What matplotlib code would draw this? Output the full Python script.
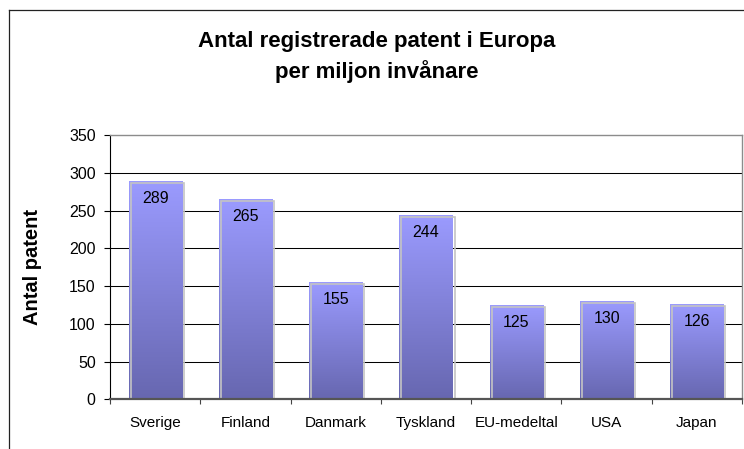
import numpy as np
import matplotlib
matplotlib.use("Agg")
import matplotlib.pyplot as plt
from matplotlib.lines import Line2D
from matplotlib.patches import Rectangle
from matplotlib.transforms import offset_copy
from matplotlib.colors import LinearSegmentedColormap

plt.rcParams['font.family'] = ['Liberation Sans', 'DejaVu Sans']

# === Data ===
countries = ["Sverige", "Finland", "Danmark", "Tyskland", "EU-medeltal", "USA", "Japan"]
patents   = [289, 265, 155, 244, 125, 130, 126]
y_ticks   = [0, 50, 100, 150, 200, 250, 300, 350]

W, H, DPI = 744, 449, 100
fig = plt.figure(figsize=(W / DPI, H / DPI), dpi=DPI)

# plot area in pixels: left 110, right 742, top 135, bottom 399
ax = fig.add_axes([110 / W, (H - 399.3) / H, 632 / W, (399.3 - 135) / H])

grad = LinearSegmentedColormap.from_list("bar", ["#6767b0", "#9b9bff"])
bar_w = 0.59
x = np.arange(len(countries))

bars = ax.bar(x, patents, width=bar_w, color="none", edgecolor="none", zorder=3)
shadow_tr = offset_copy(ax.transData, fig=fig, x=2, y=-2, units="dots")
for b, v in zip(bars, patents):
    x0 = b.get_x()
    im = ax.imshow(np.linspace(0, 1, 256).reshape(-1, 1), cmap=grad, origin="lower",
                   extent=(x0, x0 + bar_w, 0, v), aspect="auto", zorder=3)
    im.set_clip_path(b)
    ax.add_patch(Rectangle((x0, 0), bar_w, v, fill=False, edgecolor="#c4c4c4",
                           linewidth=1.2, transform=shadow_tr, zorder=4))
    ax.annotate(str(v), (b.get_x() + bar_w / 2, v), xytext=(0, -12.5),
                textcoords="offset points", ha="center", va="center",
                fontsize=11.5, color="black", zorder=5)

# === Axes ===
ax.set_xlim(-0.5, len(countries) - 0.5)
ax.set_ylim(0, 350)
ax.set_yticks(y_ticks)
ax.tick_params(axis="y", direction="out", length=4.3, width=0.8, pad=6, labelsize=11.5)
ax.set_xticks(x)
ax.set_xticklabels(countries)
ax.tick_params(axis="x", which="major", length=0, pad=12, labelsize=11)
ax.set_xticks(np.arange(len(countries) + 1) - 0.5, minor=True)
ax.tick_params(axis="x", which="minor", direction="out", length=3.6, width=0.8, color="#444444")

for yv in y_ticks[1:-1]:
    ax.axhline(yv, color="black", linewidth=0.75, zorder=1)

ax.spines["left"].set_color("black")
ax.spines["left"].set_linewidth(0.8)
ax.spines["bottom"].set_color("#555555")
ax.spines["bottom"].set_linewidth(1.6)
ax.spines["bottom"].set_zorder(6)
ax.spines["top"].set_color("#8c8c8c")
ax.spines["top"].set_linewidth(1.0)
ax.spines["right"].set_color("#8c8c8c")
ax.spines["right"].set_linewidth(1.0)

ax.set_ylabel("Antal patent", fontsize=14.5, fontweight="bold")
ax.yaxis.set_label_coords((42 - 110) / 632, 0.5)

# === Title ===
fig.text(377 / W, 1 - 57 / H, "Antal registrerade patent i Europa\nper miljon invånare",
         ha="center", va="center", fontsize=16, fontweight="bold", linespacing=1.4)

# === Outer chart frame (only left and top visible) ===
fig.add_artist(Line2D([8.5 / W, 8.5 / W], [0, 1 - 10 / H], transform=fig.transFigure,
                      color="#222222", linewidth=0.9))
fig.add_artist(Line2D([8.5 / W, 1], [1 - 10 / H, 1 - 10 / H], transform=fig.transFigure,
                      color="#222222", linewidth=0.9))

plt.savefig("out.png", dpi=DPI)
plt.close()
